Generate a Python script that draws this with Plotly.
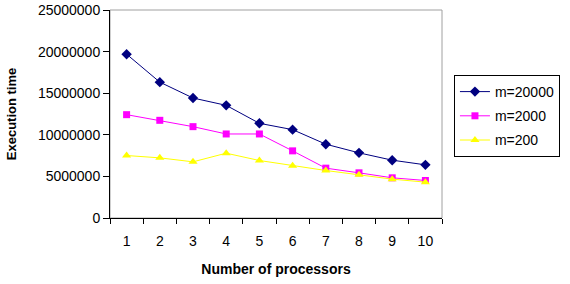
import plotly.graph_objects as go

processors = ["1", "2", "3", "4", "5", "6", "7", "8", "9", "10"]
m20000 = [19690000, 16330000, 14420000, 13540000, 11380000, 10620000, 8870000, 7830000, 6950000, 6390000]
m2000 = [12420000, 11740000, 10980000, 10100000, 10100000, 8070000, 5990000, 5430000, 4830000, 4510000]
m200 = [7510000, 7230000, 6750000, 7790000, 6910000, 6270000, 5710000, 5190000, 4670000, 4310000]
y_ticks = [0, 5000000, 10000000, 15000000, 20000000, 25000000]

font = "Liberation Sans, Arial, sans-serif"
fig = go.Figure()
fig.add_trace(go.Scatter(x=processors, y=m20000, name="m=20000", mode="lines+markers",
                         legendgroup="a",
                         line=dict(color="#000080", width=1),
                         marker=dict(symbol="diamond", size=8, color="#000080")))
fig.add_trace(go.Scatter(x=processors, y=m2000, name="m=2000", mode="lines+markers",
                         legendgroup="b",
                         line=dict(color="#FF00FF", width=1),
                         marker=dict(symbol="square", size=7, color="#FF00FF")))
fig.add_trace(go.Scatter(x=processors, y=m200, name="m=200", mode="lines+markers",
                         legendgroup="c",
                         line=dict(color="#FFFF00", width=1),
                         marker=dict(symbol="triangle-up", size=8, color="#FFFF00")))

fig.add_shape(type="rect", xref="paper", yref="paper", x0=0, x1=1, y0=0, y1=1,
              line=dict(color="#A0A0A0", width=1), layer="below")

fig.update_layout(
    width=570, height=284,
    margin=dict(l=110, r=128, t=10, b=66, autoexpand=False),
    paper_bgcolor="white", plot_bgcolor="white",
    font=dict(family=font, size=14, color="black"),
    showlegend=True,
    legend=dict(x=1.036, y=0.6875, xanchor="left", yanchor="top",
                bordercolor="black", borderwidth=1, bgcolor="white",
                font=dict(size=14), tracegroupgap=3, itemwidth=30),
    xaxis=dict(type="category", range=[-0.5, 9.5], tickson="boundaries", showline=True,
               linecolor="black", linewidth=1, ticks="outside", ticklen=5, tickcolor="black",
               showgrid=False, zeroline=False, automargin=False, ticklabelstandoff=10,
               title=dict(text="<b>Number of processors</b>", font=dict(size=14), standoff=16)),
    yaxis=dict(range=[0, 25000000], tickvals=y_ticks, ticktext=[str(v) for v in y_ticks],
               showline=True, linecolor="black", linewidth=1, ticks="outside", ticklen=6,
               tickcolor="black", showgrid=False, zeroline=False, automargin=False,
               title=dict(text="<b>Execution time</b>", font=dict(size=13), standoff=18)),
)

fig.write_html("out.html")
